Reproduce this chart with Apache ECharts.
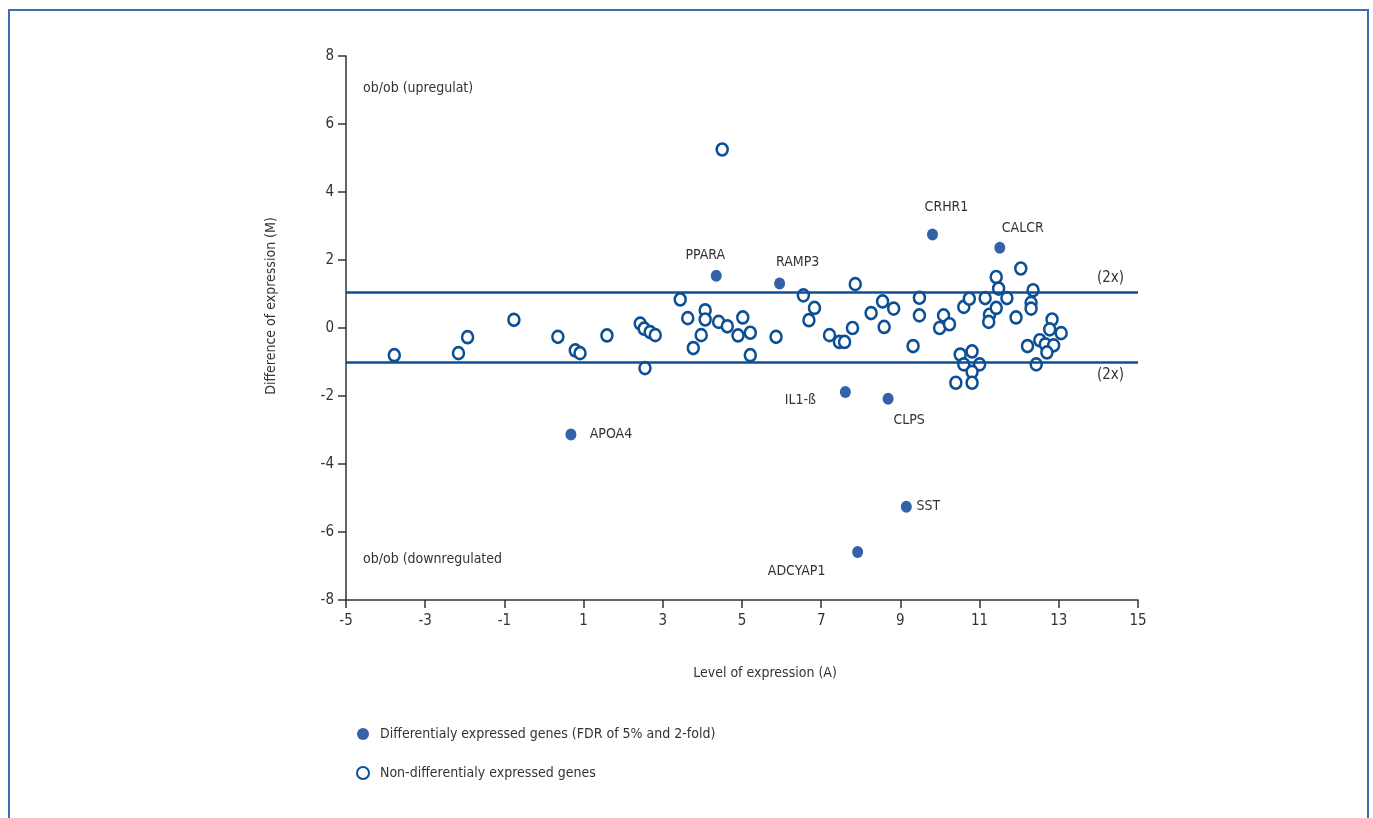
<!DOCTYPE html>
<html>
<head>
<meta charset="utf-8">
<title>MA plot ob/ob</title>
<script src="https://cdn.jsdelivr.net/npm/echarts@6/dist/echarts.min.js"></script>
<style>
  html, body { margin: 0; padding: 0; background: #fff; }
  #chart { width: 1373px; height: 818px; }
</style>
</head>
<body>
<div id="chart"></div>
<script>
// Data: A = level of expression, M = difference of expression
const xTicks = [-5, -3, -1, 1, 3, 5, 7, 9, 11, 13, 15];
const yTicks = [-8, -6, -4, -2, 0, 2, 4, 6, 8];
const foldLines = [1.06, -1.0];

// differentially expressed genes (filled)
const diffNames = ['PPARA', 'RAMP3', 'CRHR1', 'CALCR', 'IL1-ß', 'CLPS', 'SST', 'ADCYAP1', 'APOA4'];
const diffA = [4.35, 5.95, 9.81, 11.51, 7.61, 8.69, 9.15, 7.92, 0.68];
const diffM = [1.54, 1.31, 2.75, 2.36, -1.88, -2.08, -5.26, -6.59, -3.13];

// non-differentially expressed genes (open circles)
const nonDiffA = [
  -3.78, -2.16, -1.93, -0.76, 0.35, 0.79, 0.91, 1.59, 2.43, 2.53,
  2.68, 2.81, 2.55, 3.44, 3.63, 3.97, 3.77, 4.07, 4.07, 4.41,
  4.63, 4.90, 5.02, 5.21, 5.21, 5.86, 6.55, 6.83, 6.69, 7.21,
  7.46, 7.59, 7.79, 7.86, 8.26, 8.55, 8.83, 8.59, 9.32, 9.48,
  9.48, 10.09, 9.99, 10.24, 10.60, 10.74, 11.14, 11.25, 11.23, 11.42,
  11.42, 11.48, 11.69, 12.04, 11.92, 12.35, 12.30, 12.30, 12.83, 12.77,
  13.06, 12.21, 12.52, 12.66, 12.87, 12.70, 12.43, 10.51, 10.81, 10.60,
  11.00, 10.81, 10.40, 10.81, 4.50
];
const nonDiffM = [
  -0.80, -0.74, -0.27, 0.24, -0.26, -0.66, -0.74, -0.22, 0.13, -0.02,
  -0.12, -0.21, -1.18, 0.84, 0.29, -0.21, -0.59, 0.52, 0.25, 0.18,
  0.05, -0.22, 0.31, -0.14, -0.80, -0.26, 0.96, 0.59, 0.23, -0.21,
  -0.41, -0.41, 0.00, 1.29, 0.44, 0.78, 0.57, 0.03, -0.53, 0.89,
  0.37, 0.37, 0.00, 0.11, 0.62, 0.86, 0.88, 0.39, 0.18, 0.59,
  1.50, 1.16, 0.88, 1.75, 0.31, 1.11, 0.74, 0.57, 0.25, -0.04,
  -0.15, -0.53, -0.36, -0.48, -0.51, -0.72, -1.07, -0.78, -0.69, -1.07,
  -1.07, -1.29, -1.61, -1.61, 5.25
];

// where each gene name sits relative to its dot
const labelOffsets = {
  'PPARA': [-11, -20], 'RAMP3': [18, -21], 'CRHR1': [14, -27], 'CALCR': [23, -19],
  'IL1-ß': [-45, 8], 'CLPS': [21, 22], 'SST': [22, 0], 'ADCYAP1': [-61, 19], 'APOA4': [40, 0]
};

const FONT = "'Liberation Sans Narrow', 'DejaVu Sans Condensed', 'Roboto', sans-serif";
const TEXT = '#333333';
const BLUE = '#0c4f95';
const BLUE_FILL = '#3561a8';

const chart = echarts.init(document.getElementById('chart'));

const diffData = diffNames.map((name, i) => ({
  name: name,
  value: [diffA[i], diffM[i]],
  label: {
    show: true,
    position: 'inside',
    offset: labelOffsets[name],
    formatter: name,
    color: TEXT,
    fontFamily: FONT,
    fontSize: 14
  }
}));
const nonDiffData = nonDiffA.map((a, i) => [a, nonDiffM[i]]);

const option = {
  animation: false,
  backgroundColor: '#ffffff',
  grid: { left: 346, right: 235, top: 56, bottom: 218 },
  xAxis: {
    type: 'value',
    min: -5,
    max: 15,
    name: 'Level of expression (A)',
    nameLocation: 'middle',
    nameGap: 66,
    nameTextStyle: { color: TEXT, fontFamily: FONT, fontSize: 14, padding: [0, 0, 0, 46] },
    axisLine: { show: true, onZero: false, lineStyle: { color: '#333', width: 1.5 } },
    axisTick: { show: true, length: 8, customValues: xTicks, lineStyle: { color: '#333', width: 1.5 } },
    axisLabel: { customValues: xTicks, margin: 14, color: TEXT, fontFamily: FONT, fontSize: 15 },
    splitLine: { show: false }
  },
  yAxis: {
    type: 'value',
    min: -8,
    max: 8,
    interval: 2,
    name: 'Difference of expression (M)',
    nameLocation: 'middle',
    nameGap: 68,
    nameTextStyle: { color: TEXT, fontFamily: FONT, fontSize: 14, padding: [0, 0, 0, 44] },
    axisLine: { show: true, onZero: false, lineStyle: { color: '#333', width: 1.5 } },
    axisTick: { show: true, length: 8, lineStyle: { color: '#333', width: 1.5 } },
    axisLabel: { margin: 12, color: TEXT, fontFamily: FONT, fontSize: 15,
      formatter: v => (yTicks.includes(v) ? String(v) : '') },
    splitLine: { show: false }
  },
  legend: {
    orient: 'vertical',
    left: 351,
    top: 722,
    itemGap: 25,
    itemWidth: 12,
    itemHeight: 12,
    textStyle: { color: TEXT, fontFamily: FONT, fontSize: 14, padding: [0, 0, 0, 6] },
    data: [
      { name: 'Differentialy expressed genes (FDR of 5% and 2-fold)', icon: 'circle' },
      { name: 'Non-differentialy expressed genes', icon: 'circle' }
    ]
  },
  graphic: [
    {
      type: 'rect', silent: true, z: -1,
      shape: { x: 9, y: 10, width: 1359, height: 830 },
      style: { fill: 'none', stroke: '#3b6eae', lineWidth: 2 }
    },
    {
      type: 'text', left: 363, top: 81,
      style: { text: 'ob/ob (upregulat)', fill: TEXT, font: "14px " + FONT }
    },
    {
      type: 'text', left: 363, top: 552,
      style: { text: 'ob/ob (downregulated', fill: TEXT, font: "14px " + FONT }
    }
  ],
  series: [
    {
      name: 'Non-differentialy expressed genes',
      type: 'scatter',
      symbol: 'circle',
      symbolSize: [11, 12],
      data: nonDiffData,
      itemStyle: { color: '#ffffff', borderColor: BLUE, borderWidth: 2.6, opacity: 1 },
      markLine: {
        silent: true,
        symbol: 'none',
        lineStyle: { color: BLUE, width: 2.6, type: 'solid' },
        label: { formatter: '(2x)', color: TEXT, fontFamily: FONT, fontSize: 15, distance: [14, 6] },
        data: [
          { yAxis: foldLines[0], label: { position: 'insideEndTop' } },
          { yAxis: foldLines[1], label: { position: 'insideEndBottom' } }
        ]
      },
      z: 3
    },
    {
      name: 'Differentialy expressed genes (FDR of 5% and 2-fold)',
      type: 'scatter',
      symbol: 'circle',
      symbolSize: [11, 12],
      data: diffData,
      itemStyle: { color: BLUE_FILL, opacity: 1 },
      z: 4
    }
  ]
};

chart.setOption(option);
window.addEventListener('resize', () => chart.resize());
</script>
</body>
</html>
